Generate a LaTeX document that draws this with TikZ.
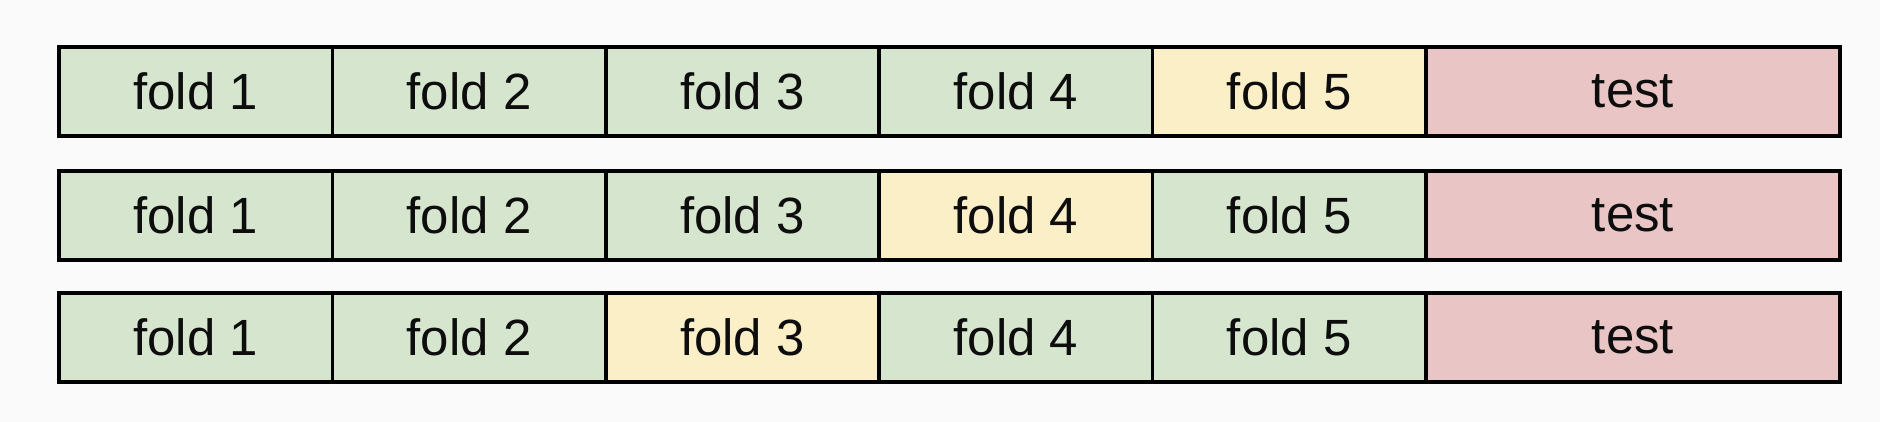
\documentclass[tikz,border=0pt]{standalone}
\usepackage{fontspec}
\setmainfont{Liberation Sans}
\usepackage{tikz}
\usetikzlibrary{calc}

\definecolor{foldtrain}{HTML}{D6E5CD}
\definecolor{foldval}{HTML}{FBEFC8}
\definecolor{foldtest}{HTML}{EAC5C6}
\definecolor{pagebg}{HTML}{FAFAFA}

\begin{document}
\begin{tikzpicture}[
    every node/.style={font=\fontsize{14.5}{17}\selectfont, text=black!95},
    cell/.style={draw, line width=1pt, rectangle, anchor=north west,
                 minimum height=0.89cm, inner sep=0pt, outer sep=0pt}]
    \fill[pagebg] (0,0) rectangle (18.80,-4.22);
    \useasboundingbox (0,0) rectangle (18.80,-4.22);

    \coordinate (Start) at (0.59,0);
    % one row per split, the yellow fold is the validation part
    \foreach \r/\y/\v in {1/0.47/5, 2/1.71/4, 3/2.93/3}{%
      \foreach \c in {1,...,5}{%
        \ifnum\c=\v \def\foldcol{foldval}\else\def\foldcol{foldtrain}\fi
        \node[cell, fill=\foldcol, minimum width=2.734cm]
            (r\r c\c) at ($(Start)+(2.734*\c-2.734,-\y)$) {fold \c};
      }
      \node[cell, fill=foldtest, minimum width=4.14cm]
          (t\r) at (r\r c5.north east) {test};
    }
\end{tikzpicture}
\end{document}
